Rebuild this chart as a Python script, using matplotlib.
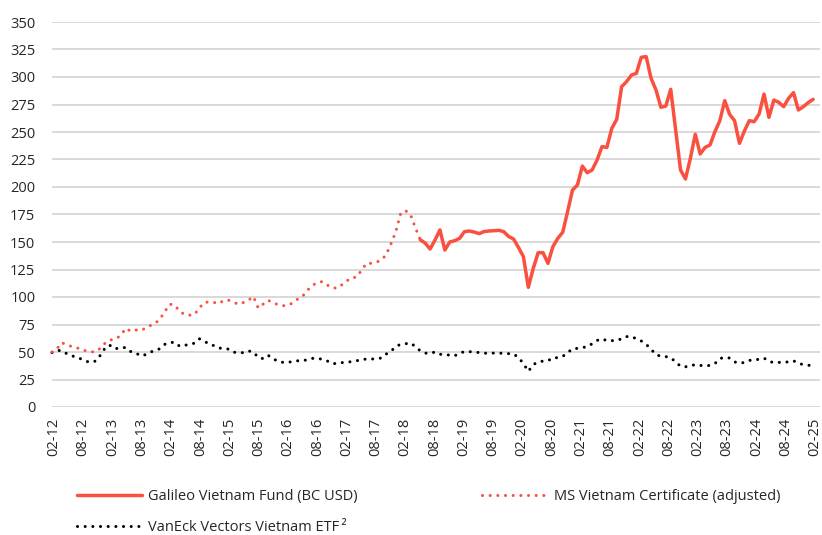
import matplotlib
matplotlib.use("Agg")
import matplotlib.pyplot as plt
import numpy as np

plt.rcParams['font.family'] = ['Open Sans', 'DejaVu Sans']

# Monthly index: 0 = Feb 2012 ... 155 = Jan 2025
ms_values = [50, 53, 58.5, 56.5, 55, 54, 52, 51, 50, 50.5, 54, 59, 61, 62, 65, 71.5,
             69, 70, 69.5, 71.5, 74, 76, 80, 87, 93.5, 92.5, 87, 84, 83.5, 84, 90, 95,
             95.5, 95, 94, 97, 97, 95, 93.5, 95, 97, 100.5, 90, 93.5, 97, 95, 93, 92,
             92.5, 94.5, 98, 100.5, 106, 110.5, 113, 114, 111, 108.5, 108, 111, 114.5,
             117.5, 118, 124, 130.5, 130.6, 131.5, 133.5, 138, 148, 159, 176, 178.5,
             175, 163, 152]
ms_start = 0

galileo_values = [152, 149, 143.6, 151.8, 161, 142.7, 150, 151.2, 153.3, 159.4, 160,
                  159, 157.6, 159.5, 160, 160.3, 160.6, 159.4, 155, 152.7, 145, 136.7,
                  108.8, 126, 140.3, 140.3, 130.6, 145.8, 153.3, 158.8, 177.6, 197.3,
                  201.8, 219, 213, 215.5, 224.5, 236.7, 236, 253.3, 261.5, 291.2, 295.8,
                  301.8, 303.3, 317.9, 318.5, 298.8, 288.2, 272.5, 273.6, 288.8, 252,
                  215.5, 207.3, 226, 247.9, 230, 236, 238.2, 250.3, 260.3, 278.5, 266,
                  260.3, 239.7, 250.9, 260.3, 259.4, 266.4, 284.5, 263.3, 279, 277, 273,
                  280.6, 285.8, 270, 273, 276.7, 279.7]
galileo_start = 75

vaneck_values = [49.5, 51.5, 51.2, 48.5, 46.5, 45.5, 43.5, 41.5, 40.5, 42, 48, 55, 56,
                 53, 54, 54, 50.5, 49.4, 46.5, 47.5, 49.8, 51.5, 53, 57, 58.6, 58.8, 55.2,
                 56, 57, 58, 62, 60, 57, 55.8, 53.5, 53.5, 52.5, 49.8, 49.4, 49.4, 51, 50,
                 45, 44, 47, 44, 41.5, 40.6, 40.4, 41.5, 42, 42, 43, 44.2, 44.1, 43.5, 42,
                 39.5, 39.5, 40.3, 40.7, 41.2, 42, 43, 43.6, 43.6, 43.8, 44.5, 48, 50.5,
                 55, 57, 57.5, 58.2, 55, 51,
                 49, 48.8, 50, 48, 47.3, 47.3, 46.5, 49, 50.3, 50.3, 50, 49.5, 48.9, 49,
                 49, 49, 48.8, 48.5, 48.2, 45, 39.5, 32.4, 38.5, 41, 41.7, 42, 44.8, 44.8,
                 46, 49.4, 53, 53.3, 54, 54.8, 57.5, 60.5, 62, 60.3, 60.3, 60.5, 62, 64,
                 64, 62, 60, 57, 52.5, 47.5, 46.2, 45.8, 44.8, 41, 37, 36.5, 37.8, 38.3,
                 37.8, 37.4, 37.8, 39.5, 44, 45.2, 44.5, 41, 39.8, 40.5, 42.4, 42.5, 43.5,
                 44.5, 41.5, 40.3, 40.5, 40.6, 41, 42, 39.7, 38.5, 38, 37.5]
vaneck_start = 0

tick_labels = ['02-12', '08-12', '02-13', '08-13', '02-14', '08-14', '02-15', '08-15',
               '02-16', '08-16', '02-17', '08-17', '02-18', '08-18', '02-19', '08-19',
               '02-20', '08-20', '02-21', '08-21', '02-22', '08-22', '02-23', '08-23',
               '02-24', '08-24', '02-25']
y_ticks = [0, 25, 50, 75, 100, 125, 150, 175, 200, 225, 250, 275, 300, 325, 350]

labels = ['Galileo Vietnam Fund (BC USD)', 'MS Vietnam Certificate (adjusted)',
          'VanEck Vectors Vietnam ETF\u2009²']

RED = '#F9503F'
TXT = '#262626'
FS = 10.5

fig = plt.figure(figsize=(8.22, 5.35), dpi=100)
ax = fig.add_axes([52/822, (535-407)/535, (820-52)/822, (407-22)/535])

x_ms = np.arange(len(ms_values)) + ms_start
x_gal = np.arange(len(galileo_values)) + galileo_start
x_van = np.arange(len(vaneck_values)) + vaneck_start

dot = (0, (0.01, 2.5))
l_van, = ax.plot(x_van, vaneck_values, color='black', lw=2.2, linestyle=dot,
                 dash_capstyle='round', clip_on=False, zorder=3)
l_ms, = ax.plot(x_ms, ms_values, color=RED, lw=2.2, linestyle=dot,
                dash_capstyle='round', clip_on=False, zorder=3)
l_gal, = ax.plot(x_gal, galileo_values, color=RED, lw=2.5, solid_joinstyle='round',
                 solid_capstyle='round', clip_on=False, zorder=4)

ax.set_xlim(0, 156.4)
ax.set_ylim(0, 350)
ax.set_yticks(y_ticks)
ax.set_yticklabels([str(v) for v in y_ticks])
# tick label positions (half-year steps) as they sit in the reference layout
ax.set_xticks(0.4 + np.arange(len(tick_labels)) * 5.96)
ax.set_xticklabels(tick_labels, rotation=90)
ax.tick_params(axis='both', length=0, labelsize=FS, colors=TXT)
ax.tick_params(axis='y', pad=12)
ax.tick_params(axis='x', pad=8)
ax.grid(axis='y', color='#D9D9D9', lw=1.4)
ax.set_axisbelow(True)
for s in ax.spines.values():
    s.set_visible(False)

leg = fig.legend([l_gal, l_van, l_ms], [labels[0], labels[2], labels[1]],
                 ncol=2, loc='upper left', bbox_to_anchor=(77/822, 1 - 489/535),
                 frameon=False, fontsize=FS, handlelength=4.45, handletextpad=0.45,
                 columnspacing=8.5, labelspacing=1.12, borderpad=0, borderaxespad=0)
for t in leg.get_texts():
    t.set_color(TXT)

fig.savefig('out.png', dpi=100)
